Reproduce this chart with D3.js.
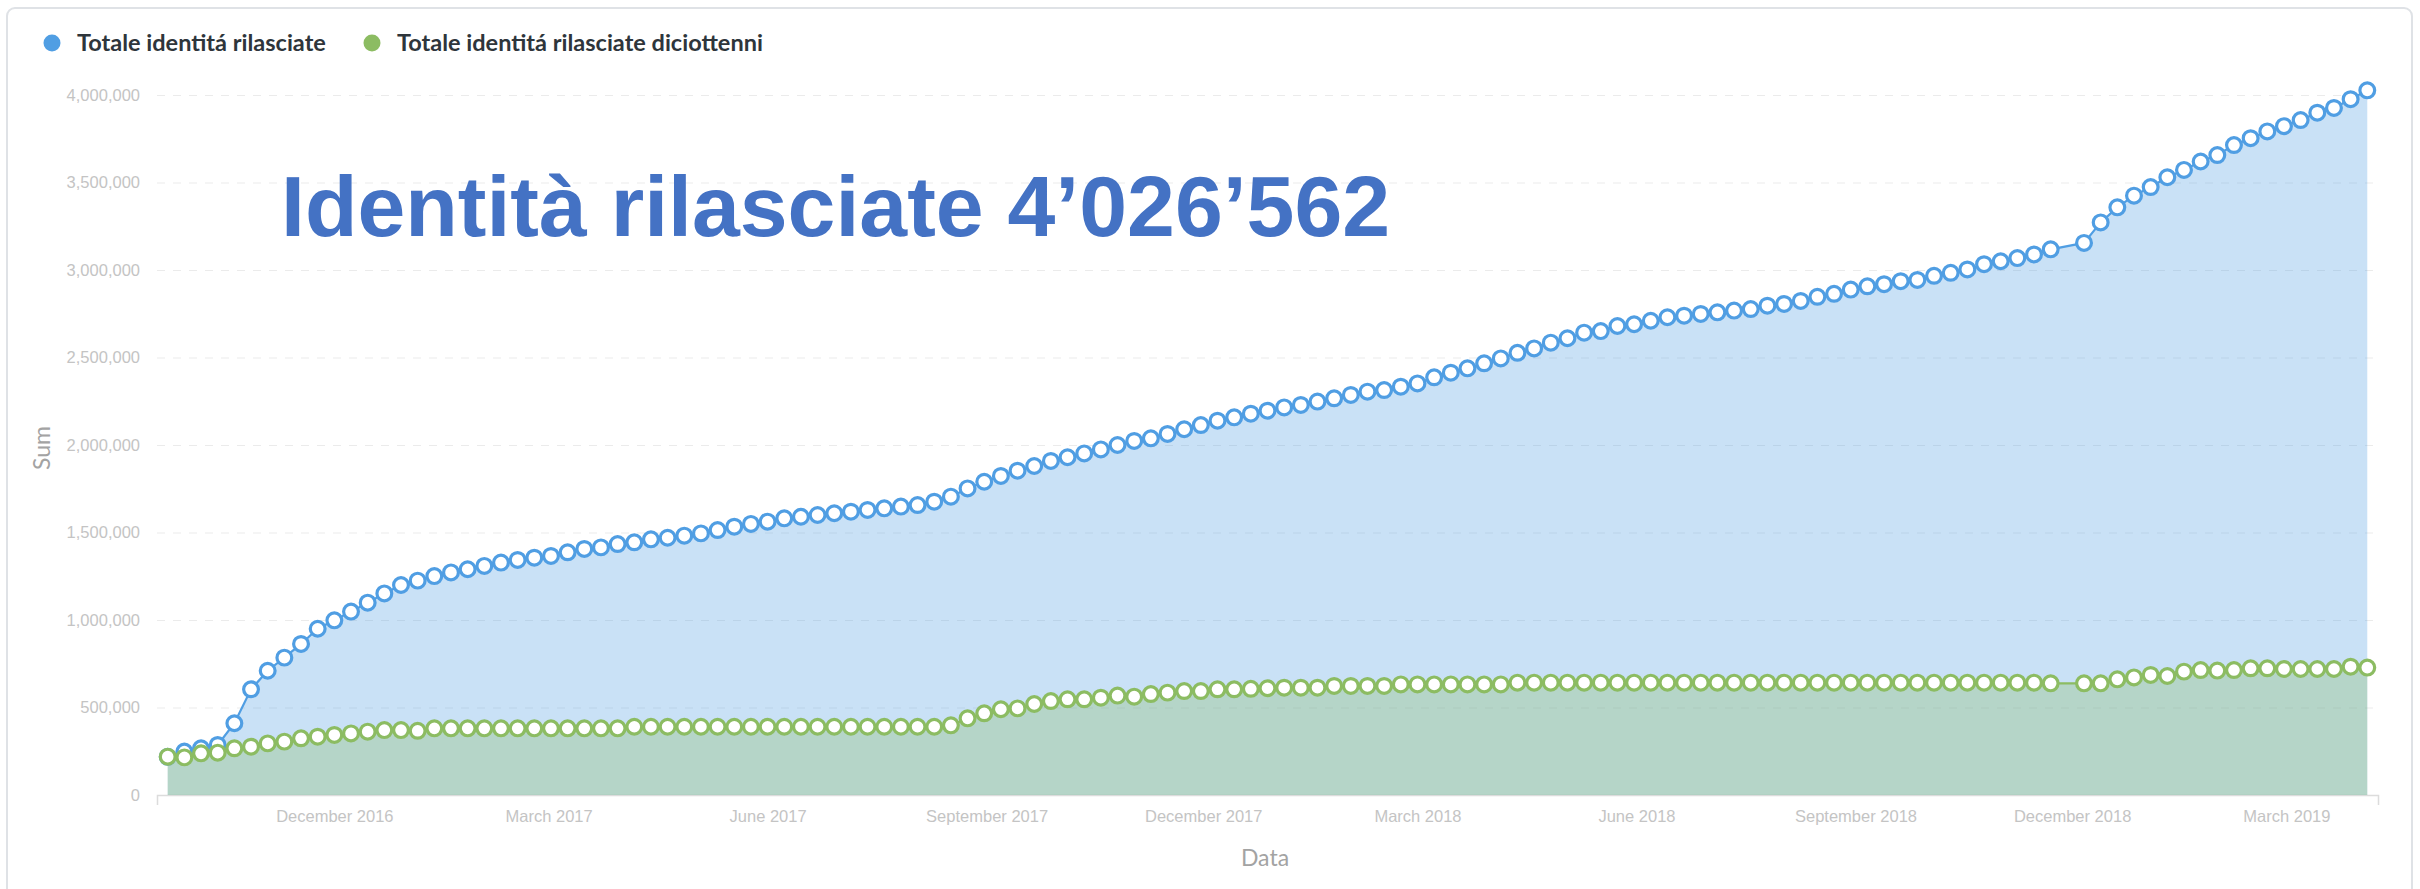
<!DOCTYPE html>
<html>
<head>
<meta charset="utf-8">
<script src="https://cdnjs.cloudflare.com/ajax/libs/d3/7.8.5/d3.min.js"></script>
<style>
  body { margin: 0; background: #fff; }
  .tick text { font-family: "Liberation Sans", Arial, sans-serif; font-size: 16.5px; fill: #c4c4c4; }
  .grid line { stroke: #000; stroke-opacity: 0.08; stroke-dasharray: 8,8; }
  .legend text { font-family: Lato, sans-serif; font-size: 23.5px; font-weight: 700; fill: #2e353b; }
  .axis-title { font-family: Lato, sans-serif; font-size: 23px; fill: #a3a3a3; }
</style>
</head>
<body>
<svg width="2420" height="889"></svg>
<script>
// weekly series, first week and values (null = missing week)
var startDate = "2016-09-22";
var seriesNames = ["Totale identitá rilasciate", "Totale identitá rilasciate diciottenni"];
var seriesColors = ["#509EE3", "#8CBC62"];

var totalValues = [
  218000, 248000, 267000, 286000, 410000, 604000, 710000, 785000, 863000, 950000,
  998000, 1048000, 1099000, 1152000, 1200000, 1225000, 1251000, 1272000, 1290000, 1309000,
  1328000, 1343000, 1356000, 1366000, 1387000, 1406000, 1415000, 1434000, 1444000, 1461000,
  1470000, 1482000, 1495000, 1514000, 1533000, 1549000, 1562000, 1581000, 1590000, 1600000,
  1610000, 1619000, 1629000, 1638000, 1648000, 1657000, 1676000, 1705000, 1752000, 1790000,
  1823000, 1853000, 1880000, 1909000, 1930000, 1952000, 1975000, 2000000, 2023000, 2038000,
  2063000, 2090000, 2114000, 2139000, 2158000, 2179000, 2196000, 2215000, 2229000, 2248000,
  2267000, 2286000, 2305000, 2314000, 2333000, 2352000, 2387000, 2413000, 2438000, 2467000,
  2495000, 2527000, 2552000, 2585000, 2610000, 2642000, 2651000, 2680000, 2690000, 2710000,
  2730000, 2739000, 2749000, 2758000, 2768000, 2777000, 2796000, 2806000, 2823000, 2847000,
  2864000, 2888000, 2907000, 2919000, 2936000, 2943000, 2967000, 2984000, 3003000, 3033000,
  3050000, 3068000, 3089000, 3118000, null, 3155000, 3272000, 3358000, 3425000, 3474000,
  3530000, 3572000, 3620000, 3657000, 3714000, 3753000, 3792000, 3822000, 3857000, 3899000,
  3926000, 3976000, 4026562
];

var eighteenValues = [
  219000, 215000, 238000, 242000, 267000, 276000, 295000, 305000, 324000, 333000,
  343000, 352000, 362000, 371000, 371000, 367000, 381000, 381000, 381000, 381000,
  381000, 381000, 381000, 381000, 381000, 381000, 381000, 381000, 390000, 390000,
  390000, 390000, 390000, 390000, 390000, 390000, 390000, 390000, 390000, 390000,
  390000, 390000, 390000, 390000, 390000, 390000, 390000, 398000, 438000, 467000,
  490000, 495000, 520000, 537000, 547000, 547000, 556000, 568000, 562000, 577000,
  585000, 594000, 594000, 604000, 604000, 607000, 610000, 613000, 613000, 613000,
  623000, 623000, 623000, 623000, 632000, 632000, 632000, 632000, 632000, 632000,
  632000, 642000, 642000, 642000, 642000, 642000, 642000, 642000, 642000, 642000,
  642000, 642000, 642000, 642000, 642000, 642000, 642000, 642000, 642000, 642000,
  642000, 642000, 642000, 642000, 642000, 642000, 642000, 642000, 642000, 642000,
  642000, 642000, 642000, 638000, null, 638000, 638000, 661000, 672000, 686000,
  680000, 705000, 714000, 711000, 714000, 724000, 724000, 720000, 720000, 720000,
  720000, 733000, 728000
];

var yTicks = [0, 500000, 1000000, 1500000, 2000000, 2500000, 3000000, 3500000, 4000000];
var xTickMonths = ["2016-12-01", "2017-03-01", "2017-06-01", "2017-09-01", "2017-12-01",
                   "2018-03-01", "2018-06-01", "2018-09-01", "2018-12-01", "2019-03-01"];
var titleText = "Identità rilasciate 4\u2019026\u2019562";

var svg = d3.select("svg");
var parse = d3.timeParse("%Y-%m-%d");
var start = parse(startDate);

var dates = totalValues.map(function(v, i) { return d3.timeDay.offset(start, 7 * i); });

function toPoints(values) {
    return values.map(function(v, i) { return { date: dates[i], value: v }; })
                 .filter(function(d) { return d.value !== null; });
}
var series = [toPoints(totalValues), toPoints(eighteenValues)];

var plotLeft = 157, plotRight = 2378, plotTop = 95, plotBottom = 795;
var pad = 4.5 * 864e5;

var x = d3.scaleTime()
    .domain([new Date(+dates[0] - pad), new Date(+dates[dates.length - 1] + pad)])
    .range([plotLeft, plotRight]);
var y = d3.scaleLinear().domain([0, 4000000]).range([plotBottom, plotTop]);

// card border
svg.append("rect")
   .attr("x", 7).attr("y", 8)
   .attr("width", 2405).attr("height", 900)
   .attr("rx", 8)
   .attr("fill", "none")
   .attr("stroke", "#dfe2e6")
   .attr("stroke-width", 2);

// grid
svg.append("g")
   .attr("class", "grid")
   .attr("transform", "translate(" + plotLeft + ",0)")
   .call(d3.axisLeft(y).tickValues(yTicks.slice(1)).tickSize(-(plotRight - plotLeft - 1)).tickFormat(""))
   .call(function(g) { g.select(".domain").remove(); });

// y labels
svg.append("g")
   .attr("transform", "translate(" + plotLeft + ",0)")
   .call(d3.axisLeft(y).tickValues(yTicks).tickSize(0).tickPadding(17).tickFormat(d3.format(",")))
   .call(function(g) { g.select(".domain").remove(); });

// x axis
var xAxis = svg.append("g")
   .attr("transform", "translate(0," + plotBottom + ")")
   .call(d3.axisBottom(x)
       .tickValues(xTickMonths.map(parse))
       .tickFormat(d3.timeFormat("%B %Y"))
       .tickSizeInner(0)
       .tickSizeOuter(10)
       .tickPadding(15));
xAxis.select(".domain").attr("stroke", "#dcdcdc").attr("stroke-width", 1.5);

var area = d3.area()
    .x(function(d) { return x(d.date); })
    .y0(y(0))
    .y1(function(d) { return y(d.value); });

var line = d3.line()
    .x(function(d) { return x(d.date); })
    .y(function(d) { return y(d.value); });

series.forEach(function(pts, s) {
    var g = svg.append("g");
    g.append("path")
     .datum(pts)
     .attr("d", area)
     .attr("fill", seriesColors[s])
     .attr("fill-opacity", 0.31);
    g.append("path")
     .datum(pts)
     .attr("d", line)
     .attr("fill", "none")
     .attr("stroke", seriesColors[s])
     .attr("stroke-width", 2.2);
    g.selectAll("circle")
     .data(pts)
     .enter().append("circle")
     .attr("cx", function(d) { return x(d.date); })
     .attr("cy", function(d) { return y(d.value); })
     .attr("r", 7.4)
     .attr("fill", "#fff")
     .attr("stroke", seriesColors[s])
     .attr("stroke-width", 3.2);
});

// legend
var legend = svg.append("g").attr("class", "legend");
var legendX = [52, 372];
seriesNames.forEach(function(name, i) {
    legend.append("circle")
          .attr("cx", legendX[i]).attr("cy", 43).attr("r", 8.5)
          .attr("fill", seriesColors[i]);
    legend.append("text")
          .attr("x", legendX[i] + 25).attr("y", 43)
          .attr("dy", "0.36em")
          .text(name);
});

// axis titles
svg.append("text")
   .attr("class", "axis-title")
   .attr("transform", "translate(42,448) rotate(-90)")
   .attr("text-anchor", "middle")
   .attr("dy", "0.35em")
   .text("Sum");

svg.append("text")
   .attr("class", "axis-title")
   .attr("x", 1265).attr("y", 858)
   .attr("text-anchor", "middle")
   .attr("dy", "0.35em")
   .text("Data");

// big title
svg.append("text")
   .attr("x", 281).attr("y", 236)
   .attr("font-family", "Liberation Sans, Arial, sans-serif")
   .attr("font-size", 86)
   .attr("font-weight", "bold")
   .attr("fill", "#4472C4")
   .text(titleText);
</script>
</body>
</html>
